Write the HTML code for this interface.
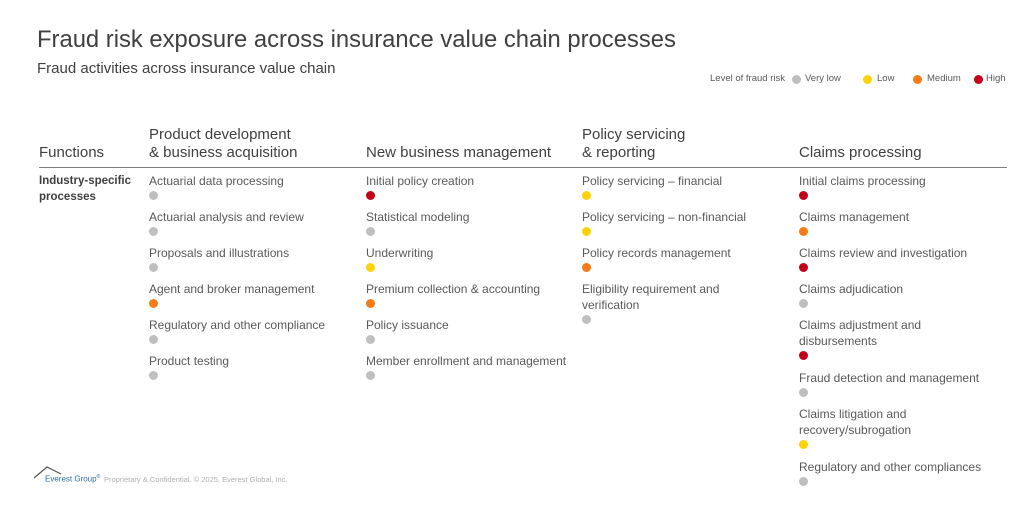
<!DOCTYPE html>
<html><head><meta charset="utf-8"><style>
body{margin:0;width:1024px;height:509px;background:#fff;font-family:"Liberation Sans",Arial,sans-serif;position:relative;overflow:hidden}
.a{position:absolute;white-space:nowrap}
.t{font-size:12px;color:#595959;line-height:16px}
.h{font-size:15px;color:#404040;line-height:18px}
.d{position:absolute;width:9px;height:9px;border-radius:50%}
.g{background:#bfbfbf}.y{background:#fdd20a}.o{background:#f47b16}.r{background:#c3001a}
.l{font-size:9.5px;color:#595959;top:73px}
</style></head><body>
<div class="a" style="left:37px;top:26px;font-size:23.8px;color:#404040">Fraud risk exposure across insurance value chain processes</div>
<div class="a" style="left:37px;top:60px;font-size:15px;color:#404040">Fraud activities across insurance value chain</div>
<div class="a l" style="left:710px">Level of fraud risk</div>
<div class="d g" style="left:792px;top:75px"></div><div class="a l" style="left:805px">Very low</div>
<div class="d y" style="left:863px;top:75px"></div><div class="a l" style="left:877px">Low</div>
<div class="d o" style="left:913px;top:75px"></div><div class="a l" style="left:927px">Medium</div>
<div class="d r" style="left:974px;top:75px"></div><div class="a l" style="left:986px">High</div>

<div class="a h" style="left:39px;top:144px">Functions</div>
<div class="a h" style="left:149px;top:126px">Product development<br>&amp; business acquisition</div>
<div class="a h" style="left:366px;top:144px">New business management</div>
<div class="a h" style="left:582px;top:126px">Policy servicing<br>&amp; reporting</div>
<div class="a h" style="left:799px;top:144px">Claims processing</div>
<div class="a" style="left:39px;top:167px;width:968px;height:1px;background:#7f7f7f"></div>
<div class="a" style="left:39px;top:173px;font-size:11.5px;font-weight:bold;color:#404040;line-height:16px">Industry-specific<br>processes</div>

<div id="c"></div>
<script>
var cols=[[149,[["Actuarial data processing","g"],["Actuarial analysis and review","g"],["Proposals and illustrations","g"],["Agent and broker management","o"],["Regulatory and other compliance","g"],["Product testing","g"]]],
[366,[["Initial policy creation","r"],["Statistical modeling","g"],["Underwriting","y"],["Premium collection &amp; accounting","o"],["Policy issuance","g"],["Member enrollment and management","g"]]],
[582,[["Policy servicing – financial","y"],["Policy servicing – non-financial","y"],["Policy records management","o"],["Eligibility requirement and<br>verification","g"]]],
[799,[["Initial claims processing","r"],["Claims management","o"],["Claims review and investigation","r"],["Claims adjudication","g"],["Claims adjustment and<br>disbursements","r"],["Fraud detection and management","g"],["Claims litigation and<br>recovery/subrogation","y"],["Regulatory and other compliances","g"]]]];
var h="";
cols.forEach(function(c){var y=173;c[1].forEach(function(it){var two=it[0].indexOf("<br>")>=0;
h+='<div class="a t" style="left:'+c[0]+'px;top:'+y+'px">'+it[0]+'</div>';
var dy=y+(two?32:16)+2;h+='<div class="d '+it[1]+'" style="left:'+c[0]+'px;top:'+dy+'px"></div>';
y+=two?53:36;});});
document.getElementById("c").innerHTML=h;
</script>
<svg class="a" style="left:33px;top:465px" width="30" height="14"><path d="M1 13 L14 2 L28 9" fill="none" stroke="#555" stroke-width="1.2"/></svg>
<div class="a" style="left:45px;top:474px;font-size:8px;color:#2e6e9e">Everest Group<sup style="font-size:5px">®</sup></div>
<div class="a" style="left:104px;top:475px;font-size:7.5px;color:#b0b0b0">Proprietary &amp; Confidential. © 2025, Everest Global, Inc.</div>
</body></html>
